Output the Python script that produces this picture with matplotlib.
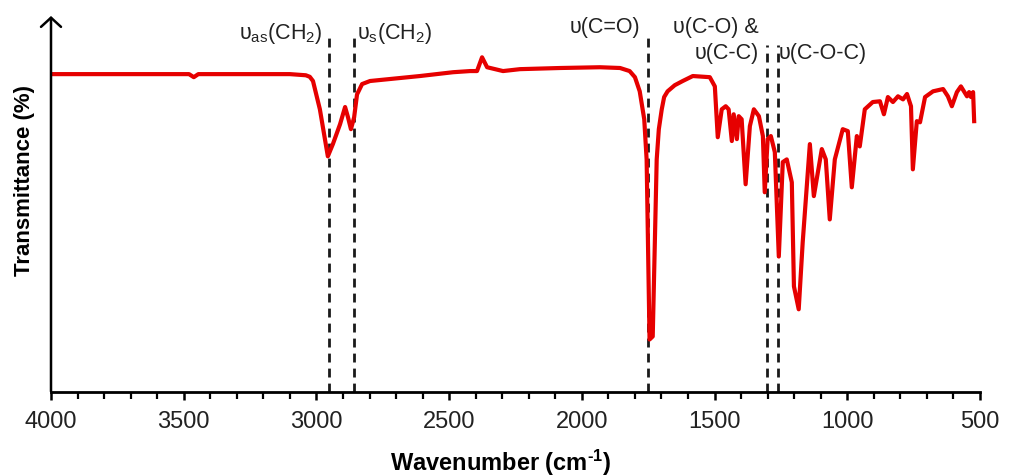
import matplotlib
matplotlib.use('Agg')
import matplotlib.pyplot as plt
from matplotlib.ticker import MultipleLocator

plt.rcParams['font.family'] = ['Liberation Sans', 'DejaVu Sans']
plt.rcParams['mathtext.fontset'] = 'custom'
plt.rcParams['mathtext.rm'] = 'Liberation Sans'
plt.rcParams['mathtext.it'] = 'Liberation Sans:italic'
plt.rcParams['mathtext.bf'] = 'Liberation Sans:bold'

# FTIR spectrum
wavenumber = [4000, 3700, 3480, 3462, 3445, 3428, 3300, 3100, 3040, 3025, 3013, 2987, 2968,
              2957, 2938, 2911, 2892, 2881, 2870, 2858, 2847, 2828, 2798, 2610, 2485,
              2421, 2395, 2376, 2357, 2297, 2233, 2082, 1932, 1856, 1820, 1800, 1782,
              1765, 1756, 1745, 1733, 1718, 1710, 1699, 1690, 1677, 1650, 1620, 1582,
              1518, 1499, 1488,
              1473, 1458, 1447, 1435, 1428, 1416, 1409, 1398, 1383, 1367, 1352, 1333,
              1318, 1311, 1300, 1288, 1273, 1258, 1243, 1228, 1209, 1201, 1183, 1168,
              1141, 1126, 1096, 1081, 1066, 1047, 1017, 998, 983, 964, 953, 934, 904,
              877, 862, 847, 828, 809, 790, 775, 760, 753, 738, 726, 707, 677, 639,
              621, 606, 587, 572, 549, 541, 534, 526, 522]
transmittance = [83.0, 83.0, 83.0, 82.2, 83.0, 83.0, 83.0, 83.0, 82.7, 82.3, 81.2, 73.8, 66.0,
                 61.5, 64.7, 69.9, 74.4, 71.7, 68.6, 71.7, 77.7, 80.4, 81.2, 82.5, 83.5,
                 83.8, 83.8, 87.4, 84.8, 83.8, 84.3, 84.6, 84.8, 84.6, 83.8, 82.2, 78.5,
                 71.2, 60.7, 13.6, 14.4, 60.7, 68.6, 73.8, 77.0, 78.5, 80.1, 81.2, 82.5,
                 82.2, 79.8, 66.5,
                 73.8, 74.6, 73.8, 65.5, 72.5, 66.0, 72.0, 71.2, 54.2, 69.4, 73.8, 72.0,
                 66.8, 52.1, 66.0, 66.8, 62.6, 35.3, 60.0, 60.7, 54.7, 27.5, 21.5, 39.0,
                 64.7, 51.1, 63.4, 60.7, 45.0, 60.7, 68.6, 68.1, 53.4, 66.8, 64.1, 73.8,
                 75.7, 75.9, 72.5, 77.0, 75.7, 77.2, 76.4, 77.8, 74.6, 58.1, 70.7, 70.4,
                 77.0, 78.5, 79.1, 77.2, 74.6, 78.3, 79.8, 77.2, 78.3, 77.0, 78.3, 70.7]

band_positions = [2953, 2858, 1751, 1302, 1261]
band_tops = [94.0, 94.0, 94.0, 90.5, 90.5]

xticks = [4000, 3500, 3000, 2500, 2000, 1500, 1000, 500]

W, H = 1015, 477
fig = plt.figure(figsize=(W / 100, H / 100), dpi=100)
ax = fig.add_axes([51 / W, (H - 392.5) / H, 929 / W, (392.5 - 17) / H])

ax.plot(wavenumber, transmittance, color='#e60000', lw=3.0, solid_joinstyle='round',
        zorder=3)
for x, top in zip(band_positions, band_tops):
    ax.plot([x, x], [0, top], color='#1a1a1a', lw=2.0, ls=(0, (3.2, 2.2)), zorder=2)

ax.set_xlim(4000, 500)
ax.set_ylim(0, 98.2)
ax.set_xticks(xticks)
ax.set_xticklabels([str(t) for t in xticks])
ax.xaxis.set_minor_locator(MultipleLocator(100))
ax.tick_params(axis='x', which='major', direction='out', length=6, width=1.8,
               labelsize=17, pad=7, colors='black', labelcolor='#222222')
ax.tick_params(axis='x', which='minor', direction='out', length=5, width=1.6)
ax.set_yticks([])
for s in ['top', 'right', 'left']:
    ax.spines[s].set_visible(False)
ax.spines['bottom'].set_linewidth(2.0)

ax.annotate('', xy=(0, 1), xytext=(0, 0), xycoords='axes fraction',
            textcoords='axes fraction',
            arrowprops=dict(arrowstyle='->,head_length=0.55,head_width=0.6',
                            lw=1.8, color='black', shrinkA=0, shrinkB=0,
                            mutation_scale=12), zorder=5)

def ftext(x, y, s, **kw):
    fig.text(x / W, 1 - y / H, s, **kw)

fs = 15.5
ftext(323, 38.5, r'υ$_{\mathrm{as}}$(CH$_2$)', fontsize=fs, ha='right', va='baseline', color='#222222')
ftext(357, 38.5, r'υ$_{\mathrm{s}}$(CH$_2$)', fontsize=fs, ha='left', va='baseline', color='#222222')
ftext(640, 32.5, 'υ(C=O)', fontsize=fs, ha='right', va='baseline', color='#222222')
ftext(673, 32.5, 'υ(C-O) &', fontsize=fs, ha='left', va='baseline', color='#222222')
ftext(759, 59, 'υ(C-C)', fontsize=fs, ha='right', va='baseline', color='#222222')
ftext(779, 59, 'υ(C-O-C)', fontsize=fs, ha='left', va='baseline', color='#222222')

ftext(501, 463, 'Wavenumber (cm$^{\\mathbf{\u2010}\\mathbf{1}}$)', fontsize=17,
      fontweight='bold', ha='center', va='center')
ftext(25, 180, 'Transmittance (%)', fontsize=16, fontweight='bold', rotation=90,
      ha='center', va='center')

fig.savefig('out.png', dpi=100)
